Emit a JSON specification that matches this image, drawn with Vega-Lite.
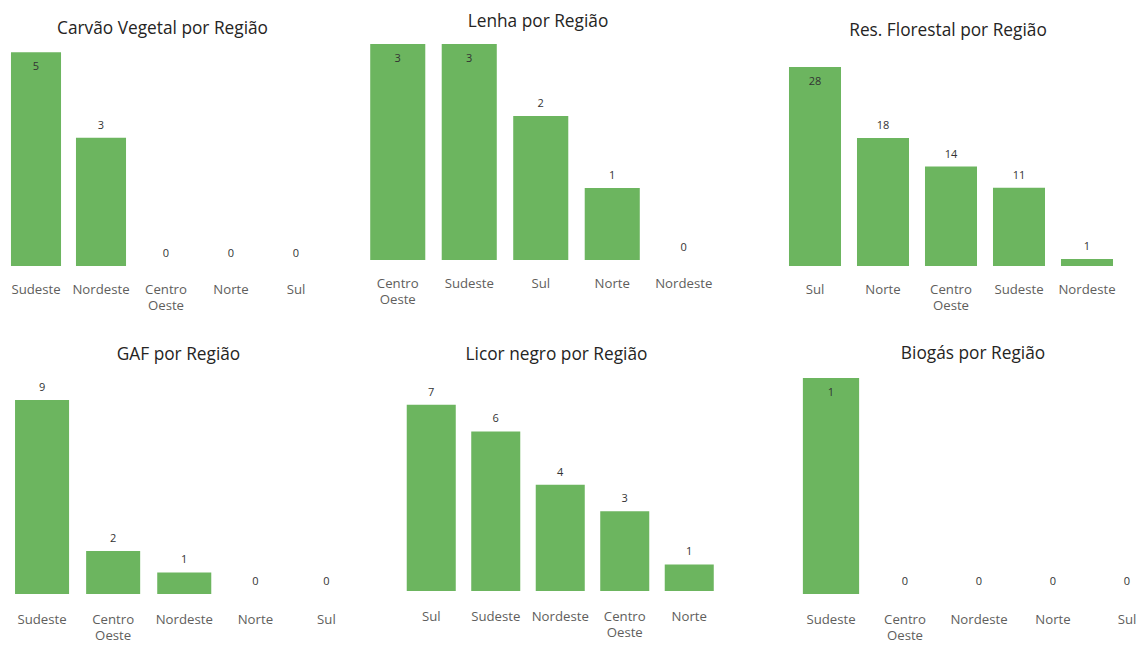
{
  "$schema": "https://vega.github.io/schema/vega-lite/v6.json",
  "padding": {"left": 0, "top": 13, "right": 0, "bottom": 0},
  "background": "white",
  "config": {
    "view": {"stroke": null},
    "font": "Open Sans",
    "title": {"fontSize": 17.3, "fontWeight": "normal", "color": "#252423", "font": "Open Sans", "baseline": "bottom", "anchor": "middle"},
    "axisX": {"title": null, "ticks": false, "domain": false, "grid": false, "labelAngle": 0, "labelFontSize": 13.2, "labelColor": "#605E5C", "labelPadding": 17, "labelLineHeight": 16, "labelFont": "Open Sans",
      "labelExpr": "datum.label == 'Centro Oeste' ? ['Centro', 'Oeste'] : datum.label"},
    "text": {"fontSize": 11, "color": "#333333", "baseline": "middle"},
    "bar": {"color": "#6CB55F"}
  },
  "data": {"values": [
    {"fonte": "Carvão Vegetal", "regiao": "Sudeste", "valor": 5},
    {"fonte": "Carvão Vegetal", "regiao": "Nordeste", "valor": 3},
    {"fonte": "Carvão Vegetal", "regiao": "Centro Oeste", "valor": 0},
    {"fonte": "Carvão Vegetal", "regiao": "Norte", "valor": 0},
    {"fonte": "Carvão Vegetal", "regiao": "Sul", "valor": 0},
    {"fonte": "Lenha", "regiao": "Centro Oeste", "valor": 3},
    {"fonte": "Lenha", "regiao": "Sudeste", "valor": 3},
    {"fonte": "Lenha", "regiao": "Sul", "valor": 2},
    {"fonte": "Lenha", "regiao": "Norte", "valor": 1},
    {"fonte": "Lenha", "regiao": "Nordeste", "valor": 0},
    {"fonte": "Res. Florestal", "regiao": "Sul", "valor": 28},
    {"fonte": "Res. Florestal", "regiao": "Norte", "valor": 18},
    {"fonte": "Res. Florestal", "regiao": "Centro Oeste", "valor": 14},
    {"fonte": "Res. Florestal", "regiao": "Sudeste", "valor": 11},
    {"fonte": "Res. Florestal", "regiao": "Nordeste", "valor": 1},
    {"fonte": "GAF", "regiao": "Sudeste", "valor": 9},
    {"fonte": "GAF", "regiao": "Centro Oeste", "valor": 2},
    {"fonte": "GAF", "regiao": "Nordeste", "valor": 1},
    {"fonte": "GAF", "regiao": "Norte", "valor": 0},
    {"fonte": "GAF", "regiao": "Sul", "valor": 0},
    {"fonte": "Licor negro", "regiao": "Sul", "valor": 7},
    {"fonte": "Licor negro", "regiao": "Sudeste", "valor": 6},
    {"fonte": "Licor negro", "regiao": "Nordeste", "valor": 4},
    {"fonte": "Licor negro", "regiao": "Centro Oeste", "valor": 3},
    {"fonte": "Licor negro", "regiao": "Norte", "valor": 1},
    {"fonte": "Biogás", "regiao": "Sudeste", "valor": 1},
    {"fonte": "Biogás", "regiao": "Centro Oeste", "valor": 0},
    {"fonte": "Biogás", "regiao": "Nordeste", "valor": 0},
    {"fonte": "Biogás", "regiao": "Norte", "valor": 0},
    {"fonte": "Biogás", "regiao": "Sul", "valor": 0}
  ]},
  "spacing": 33,
  "vconcat": [
    {
      "spacing": 33,
      "hconcat": [
        {
          "width": 329, "height": 222,
          "title": {"text": "Carvão Vegetal por Região", "offset": 6.6, "dx": -2},
          "transform": [{"filter": "datum.fonte == 'Carvão Vegetal'"}],
          "encoding": {
            "x": {"field": "regiao", "type": "nominal", "sort": ["Sudeste", "Nordeste", "Centro Oeste", "Norte", "Sul"], "scale": {"range": [3.5, 328.5], "paddingInner": 0.23, "paddingOuter": 0.115}},
            "y": {"field": "valor", "type": "quantitative", "scale": {"domain": [0, 5.19], "nice": false}, "axis": null}
          },
          "layer": [
            {"mark": {"type": "bar"}},
            {"transform": [{"filter": "datum.valor < 5"}], "mark": {"type": "text", "dy": -12, "color": "#333333"}, "encoding": {"text": {"field": "valor", "type": "quantitative"}}},
            {"transform": [{"filter": "datum.valor >= 5"}], "mark": {"type": "text", "dy": 15, "color": "#333333"}, "encoding": {"text": {"field": "valor", "type": "quantitative"}}}
          ]
        },
        {
          "width": 386, "height": 216,
          "title": {"text": "Lenha por Região", "offset": 13.6, "dx": -17},
          "transform": [{"filter": "datum.fonte == 'Lenha'"}],
          "encoding": {
            "x": {"field": "regiao", "type": "nominal", "sort": ["Centro Oeste", "Sudeste", "Sul", "Norte", "Nordeste"], "scale": {"range": [0, 357.5], "paddingInner": 0.23, "paddingOuter": 0.115}},
            "y": {"field": "valor", "type": "quantitative", "scale": {"domain": [0, 3], "nice": false}, "axis": null}
          },
          "layer": [
            {"mark": {"type": "bar"}},
            {"transform": [{"filter": "datum.valor < 3"}], "mark": {"type": "text", "dy": -12, "color": "#333333"}, "encoding": {"text": {"field": "valor", "type": "quantitative"}}},
            {"transform": [{"filter": "datum.valor >= 3"}], "mark": {"type": "text", "dy": 15, "color": "#333333"}, "encoding": {"text": {"field": "valor", "type": "quantitative"}}}
          ]
        },
        {
          "width": 340, "height": 222,
          "title": {"text": "Res. Florestal por Região", "offset": 4.6, "dx": -3},
          "transform": [{"filter": "datum.fonte == 'Res. Florestal'"}],
          "encoding": {
            "x": {"field": "regiao", "type": "nominal", "sort": ["Sul", "Norte", "Centro Oeste", "Sudeste", "Nordeste"], "scale": {"range": [0, 340], "paddingInner": 0.235, "paddingOuter": 0.1175}},
            "y": {"field": "valor", "type": "quantitative", "scale": {"domain": [0, 31.24], "nice": false}, "axis": null}
          },
          "layer": [
            {"mark": {"type": "bar"}},
            {"transform": [{"filter": "datum.valor < 28"}], "mark": {"type": "text", "dy": -12, "color": "#333333"}, "encoding": {"text": {"field": "valor", "type": "quantitative"}}},
            {"transform": [{"filter": "datum.valor >= 28"}], "mark": {"type": "text", "dy": 15, "color": "#333333"}, "encoding": {"text": {"field": "valor", "type": "quantitative"}}}
          ]
        }
      ]
    },
    {
      "spacing": 37,
      "hconcat": [
        {
          "width": 362, "height": 216,
          "title": {"text": "GAF por Região", "offset": 14.5, "dx": -2.5},
          "transform": [{"filter": "datum.fonte == 'GAF'"}],
          "encoding": {
            "x": {"field": "regiao", "type": "nominal", "sort": ["Sudeste", "Centro Oeste", "Nordeste", "Norte", "Sul"], "scale": {"range": [6.5, 362], "paddingInner": 0.24, "paddingOuter": 0.12}, "axis": {"labelPadding": 19}},
            "y": {"field": "valor", "type": "quantitative", "scale": {"domain": [0, 10.02], "nice": false}, "axis": null}
          },
          "layer": [
            {"mark": {"type": "bar"}},
            {"mark": {"type": "text", "dy": -12, "color": "#333333"}, "encoding": {"text": {"field": "valor", "type": "quantitative"}}}
          ]
        },
        {
          "width": 358, "height": 213,
          "title": {"text": "Licor negro por Região", "offset": 14.5, "dx": -21.5},
          "transform": [{"filter": "datum.fonte == 'Licor negro'"}],
          "encoding": {
            "x": {"field": "regiao", "type": "nominal", "sort": ["Sul", "Sudeste", "Nordeste", "Centro Oeste", "Norte"], "scale": {"range": [0, 322.5], "paddingInner": 0.24, "paddingOuter": 0.12}, "axis": {"labelPadding": 19}},
            "y": {"field": "valor", "type": "quantitative", "scale": {"domain": [0, 8.01], "nice": false}, "axis": null}
          },
          "layer": [
            {"mark": {"type": "bar"}},
            {"mark": {"type": "text", "dy": -12, "color": "#333333"}, "encoding": {"text": {"field": "valor", "type": "quantitative"}}}
          ]
        },
        {
          "width": 340, "height": 216,
          "title": {"text": "Biogás por Região", "offset": 15.5, "dx": 9},
          "transform": [{"filter": "datum.fonte == 'Biogás'"}],
          "encoding": {
            "x": {"field": "regiao", "type": "nominal", "sort": ["Sudeste", "Centro Oeste", "Nordeste", "Norte", "Sul"], "scale": {"range": [0, 370], "paddingInner": 0.24, "paddingOuter": 0.12}, "axis": {"labelPadding": 19}},
            "y": {"field": "valor", "type": "quantitative", "scale": {"domain": [0, 1], "nice": false}, "axis": null}
          },
          "layer": [
            {"mark": {"type": "bar"}},
            {"transform": [{"filter": "datum.valor < 1"}], "mark": {"type": "text", "dy": -12, "color": "#333333"}, "encoding": {"text": {"field": "valor", "type": "quantitative"}}},
            {"transform": [{"filter": "datum.valor >= 1"}], "mark": {"type": "text", "dy": 15, "color": "#333333"}, "encoding": {"text": {"field": "valor", "type": "quantitative"}}}
          ]
        }
      ]
    }
  ]
}
